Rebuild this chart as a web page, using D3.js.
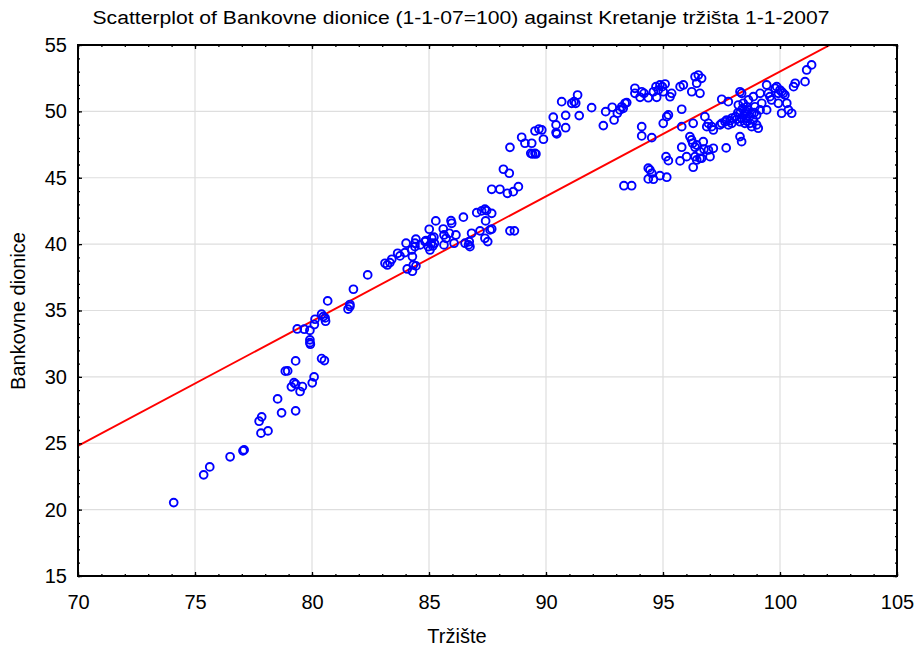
<!DOCTYPE html>
<html>
<head>
<meta charset="utf-8">
<script src="https://cdn.jsdelivr.net/npm/d3@7"></script>
<style>
  body { margin: 0; background: #fff; }
  svg { font-family: "Liberation Sans", Arial, sans-serif; }
</style>
</head>
<body>
<svg id="chart"></svg>
<script>
// Tržište (x) vs Bankovne dionice (y)
const points = [
  [74.09,20.53],[75.37,22.62],[75.63,23.22],[76.5,23.98],[77.05,24.43],[77.1,24.5],
  [77.74,26.66],[77.85,26.99],[77.82,25.76],[78.12,25.93],[78.53,28.34],[78.7,27.29],
  [79.3,27.44],[78.86,30.43],[78.96,30.45],[79.3,31.2],[79.12,29.25],[79.23,29.57],
  [79.3,29.45],[79.59,29.27],[79.49,28.9],[80.01,29.55],[80.09,30.0],[79.91,32.79],
  [79.91,32.58],[79.93,32.46],[79.37,33.61],[79.67,33.59],[79.91,33.5],[80.1,33.94],
  [80.13,34.34],[80.41,34.72],[80.48,34.54],[80.56,34.44],[80.58,34.19],[80.41,31.38],
  [80.53,31.23],[80.67,35.72],[81.54,35.1],[81.62,35.3],[81.62,35.45],[81.77,36.6],
  [82.38,37.68],[83.12,38.56],[83.22,38.43],[83.33,38.61],[83.41,38.86],[83.66,39.31],
  [83.76,39.11],[83.97,39.36],[84.02,40.07],[84.07,38.13],[84.29,37.96],[84.33,38.43],
  [84.44,38.36],[84.29,39.06],[84.26,39.56],[84.4,40.07],[84.44,40.37],[84.4,39.81],
  [84.62,39.94],[84.87,40.27],[85.01,41.12],[85.29,41.75],[84.97,39.81],[85.04,39.56],
  [85.09,40.07],[85.16,39.86],[85.12,40.45],[85.21,40.52],[85.23,40.07],[84.83,40.19],
  [85.61,41.14],[85.64,40.69],[85.73,40.44],[85.64,39.94],[85.94,41.77],[85.97,41.57],
  [85.87,40.82],[86.07,40.07],[86.15,40.69],[86.47,42.03],[86.54,40.07],[86.69,39.94],
  [86.75,39.81],[86.72,40.19],[86.82,40.82],[87.04,42.37],[87.25,42.5],[87.39,42.63],
  [87.46,42.52],[87.68,42.32],[87.42,41.75],[87.18,41.0],[87.39,40.44],[87.51,40.19],
  [87.68,41.14],[87.61,41.07],[88.46,41.0],[88.65,41.0],[87.68,44.13],[88.03,44.13],
  [88.35,43.83],[88.6,43.95],[88.82,44.33],[88.18,45.64],[88.43,45.34],[89.42,46.79],
  [89.57,46.79],[88.46,47.29],
  [88.96,48.05],[89.1,47.6],[89.39,47.6],[89.35,46.84],[89.53,46.84],[89.53,48.52],
  [89.7,48.67],[89.82,48.6],[89.89,47.9],[90.31,49.56],[90.43,48.98],[90.43,48.4],
  [90.46,48.3],[90.84,48.77],[90.84,49.7],[90.67,50.73],[91.1,50.61],[91.2,50.73],
  [91.27,50.61],[91.35,51.23],[91.42,49.68],[91.95,50.28],[92.45,48.93],[92.55,49.98],
  [92.83,50.31],[92.91,49.35],[93.05,49.86],[93.16,50.11],[93.24,50.35],[93.38,50.61],
  [93.45,50.66],[93.3,50.23],[93.33,44.4],[93.66,44.4],
  [93.8,51.74],[93.8,51.36],[94.09,51.48],[94.02,51.06],[94.19,51.36],[94.37,51.03],
  [94.59,51.48],[94.7,51.86],[94.8,51.61],[94.87,51.99],[94.97,51.86],[95.01,51.48],
  [95.09,52.06],[94.73,51.06],[95.3,51.1],[95.37,51.36],[95.73,51.86],[95.87,51.99],
  [96.23,51.48],[96.37,52.61],[96.51,52.74],[96.65,52.49],[96.44,52.12],[96.58,51.36],
  [95.8,50.16],
  [94.09,48.85],[94.09,48.15],[94.52,48.02],[95.01,49.1],[95.16,49.6],[95.23,49.73],
  [94.37,45.72],[94.44,45.59],[94.52,45.34],[94.37,44.91],[94.59,44.89],[94.87,45.16],
  [95.16,45.04],[95.13,46.59],[95.23,46.29],
  [95.8,48.85],[96.29,49.1],[96.79,49.6],[96.87,48.85],[96.94,49.1],[97.08,48.85],
  [97.15,48.6],[97.44,48.98],[95.8,47.3],[96.15,48.1],[96.22,47.85],[96.27,47.6],
  [96.37,47.3],[96.44,47.47],[96.72,47.72],[96.58,46.97],[96.75,47.15],[96.94,47.09],
  [97.15,47.22],[97.01,46.59],[96.37,46.59],[96.44,46.34],[96.29,45.79],[96.58,46.47],
  [96.01,46.59],[95.73,46.27],[96.65,46.47],[97.7,47.25],
  [97.51,50.91],[97.79,50.73],[97.51,49.1],[97.65,49.22],[97.72,49.35],[97.79,48.98],
  [97.86,49.3],[97.94,49.1],[98.29,51.48],[98.36,51.36],[98.22,50.48],[98.29,48.1],
  [98.36,47.72],
  [98.43,50.61],[98.58,50.35],[98.65,50.11],[98.5,49.86],[98.29,49.86],[98.36,49.48],
  [98.58,49.48],[98.79,49.86],[98.86,49.35],[98.72,49.1],[99.0,48.98],[99.07,48.73],
  [98.79,48.85],[98.5,49.1],[98.29,49.22],[98.65,50.86],[98.86,51.11],[99.15,51.36],
  [99.22,50.61],[99.15,50.11],[99.0,49.73],[98.93,50.35],
  [98.1,49.6],[98.2,49.9],[98.45,49.7],[98.7,49.6],[98.55,50.0],[98.4,50.2],
  [98.9,49.9],[98.15,49.4],[97.95,49.5],[98.6,49.25],
  [99.43,51.99],[99.5,51.36],[99.57,51.11],[99.79,51.74],[99.86,51.86],[99.93,51.36],
  [100.0,51.61],[100.07,51.48],[100.14,51.36],[100.21,51.23],[99.64,50.86],[99.93,50.61],
  [99.43,50.11],[100.07,49.86],[100.29,50.61],[100.36,50.11],[100.5,49.86],[100.58,51.86],
  [100.65,52.12],[101.07,52.24],[101.14,53.12],[101.35,53.5]
];

const xTicks = [70, 75, 80, 85, 90, 95, 100, 105];
const yTicks = [15, 20, 25, 30, 35, 40, 45, 50, 55];
const minorX = d3.range(70, 106, 1);
const minorY = d3.range(15, 56, 1);

// fitted line: Bankovne = a + b * Tržište
const fitA = -41.0;
const fitB = 0.94;

const titleText = "Scatterplot of Bankovne dionice (1-1-07=100) against Kretanje tržišta 1-1-2007";

const width = 914;
const height = 648;
const plotL = 78, plotR = 897, plotT = 45, plotB = 576;

const svg = d3.select("#chart").attr("width", width).attr("height", height);

const x = d3.scaleLinear().domain([70, 105]).range([plotL, plotR]);
const y = d3.scaleLinear().domain([15, 55]).range([plotB, plotT]);

// grid
svg.append("g")
  .selectAll("line")
  .data(xTicks.slice(1, -1))
  .join("line")
  .attr("x1", d => x(d)).attr("x2", d => x(d))
  .attr("y1", plotT).attr("y2", plotB)
  .attr("stroke", "#dedede").attr("stroke-width", 1.2);

svg.append("g")
  .selectAll("line")
  .data(yTicks.slice(1, -1))
  .join("line")
  .attr("y1", d => y(d)).attr("y2", d => y(d))
  .attr("x1", plotL).attr("x2", plotR)
  .attr("stroke", "#dedede").attr("stroke-width", 1.2);

// clip for plot contents
svg.append("clipPath").attr("id", "plot-clip")
  .append("rect")
  .attr("x", plotL).attr("y", plotT)
  .attr("width", plotR - plotL).attr("height", plotB - plotT);

const plot = svg.append("g").attr("clip-path", "url(#plot-clip)");

plot.append("line")
  .attr("x1", x(70)).attr("y1", y(fitA + fitB * 70))
  .attr("x2", x(105)).attr("y2", y(fitA + fitB * 105))
  .attr("stroke", "#ff0000")
  .attr("stroke-width", 1.9);

plot.selectAll("circle")
  .data(points)
  .join("circle")
  .attr("cx", d => x(d[0]))
  .attr("cy", d => y(d[1]))
  .attr("r", 3.9)
  .attr("fill", "none")
  .attr("stroke", "#0000ff")
  .attr("stroke-width", 1.9);

// ticks on all four sides, pointing inward
function styleAxis(g) {
  g.select(".domain").remove();
  g.selectAll(".tick line").attr("stroke", "#000").attr("stroke-width", 1.3);
  g.selectAll("text").attr("fill", "#000").style("font-size", "20px");
}

svg.append("g").attr("transform", `translate(0,${plotB})`)
  .call(d3.axisBottom(x).tickValues(minorX).tickSize(-2).tickFormat(""))
  .call(styleAxis);
svg.append("g").attr("transform", `translate(0,${plotB})`)
  .call(d3.axisBottom(x).tickValues(xTicks).tickSize(-4).tickPadding(19).tickFormat(d3.format("d")))
  .call(styleAxis);

svg.append("g").attr("transform", `translate(0,${plotT})`)
  .call(d3.axisTop(x).tickValues(minorX).tickSize(-2).tickFormat(""))
  .call(styleAxis);
svg.append("g").attr("transform", `translate(0,${plotT})`)
  .call(d3.axisTop(x).tickValues(xTicks).tickSize(-4).tickFormat(""))
  .call(styleAxis);

svg.append("g").attr("transform", `translate(${plotL},0)`)
  .call(d3.axisLeft(y).tickValues(minorY).tickSize(-2).tickFormat(""))
  .call(styleAxis);
svg.append("g").attr("transform", `translate(${plotL},0)`)
  .call(d3.axisLeft(y).tickValues(yTicks).tickSize(-4).tickPadding(11).tickFormat(d3.format("d")))
  .call(styleAxis);

svg.append("g").attr("transform", `translate(${plotR},0)`)
  .call(d3.axisRight(y).tickValues(minorY).tickSize(-2).tickFormat(""))
  .call(styleAxis);
svg.append("g").attr("transform", `translate(${plotR},0)`)
  .call(d3.axisRight(y).tickValues(yTicks).tickSize(-4).tickFormat(""))
  .call(styleAxis);

// frame
svg.append("rect")
  .attr("x", plotL).attr("y", plotT)
  .attr("width", plotR - plotL).attr("height", plotB - plotT)
  .attr("fill", "none")
  .attr("stroke", "#000")
  .attr("stroke-width", 2);

// titles
svg.append("text")
  .attr("x", 461).attr("y", 24)
  .attr("text-anchor", "middle")
  .attr("textLength", 737)
  .attr("lengthAdjust", "spacingAndGlyphs")
  .style("font-size", "18px")
  .text(titleText);

svg.append("text")
  .attr("x", 457).attr("y", 643)
  .attr("text-anchor", "middle")
  .style("font-size", "20px")
  .text("Tržište");

svg.append("text")
  .attr("transform", "translate(25,311) rotate(-90)")
  .attr("text-anchor", "middle")
  .style("font-size", "20px")
  .text("Bankovne dionice");
</script>
</body>
</html>
